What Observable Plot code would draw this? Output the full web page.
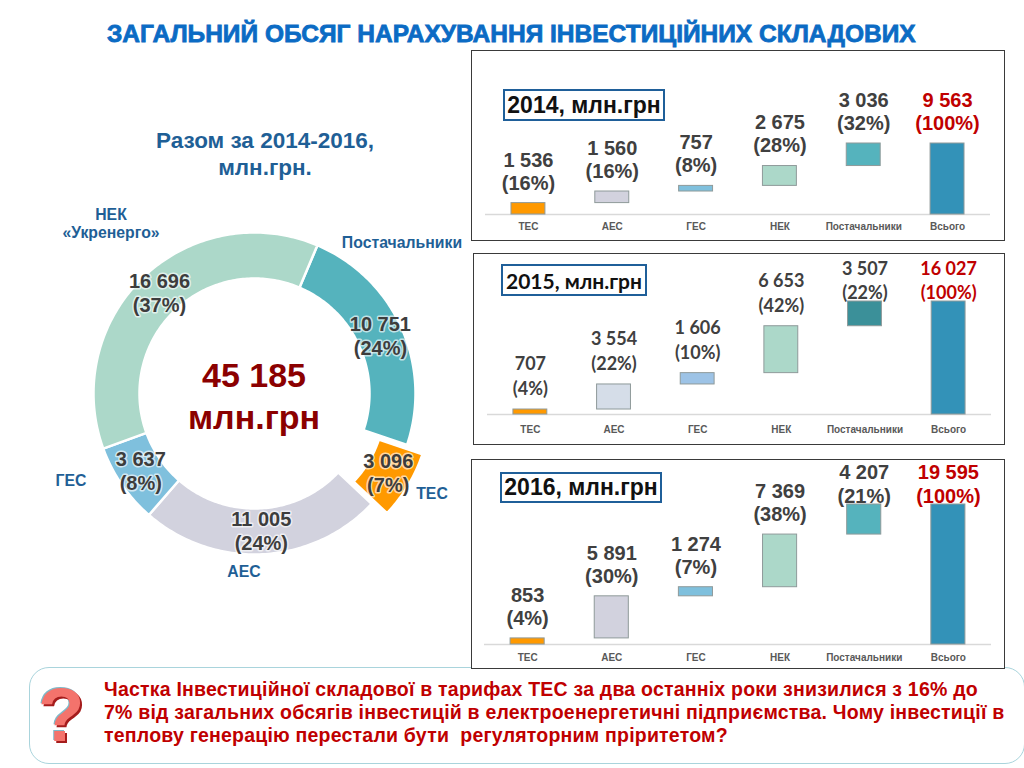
<!DOCTYPE html>
<html><head><meta charset="utf-8">
<script src="https://cdn.jsdelivr.net/npm/d3@7"></script>
<script src="https://cdn.jsdelivr.net/npm/@observablehq/plot@0.6"></script>
<style>
html,body{margin:0;padding:0;background:#fff;}
#page{position:relative;width:1024px;height:768px;overflow:hidden;background:#fff;font-family:"Liberation Sans",Arial,sans-serif;}
.t{position:absolute;white-space:nowrap;font-weight:bold;line-height:1;}
.panel{position:absolute;box-sizing:border-box;border:1.5px solid #3a3a3a;background:#fff;}
.badge{position:absolute;box-sizing:border-box;border:2.5px solid #1f5f99;background:#fff;color:#111;font-weight:bold;display:flex;align-items:center;justify-content:center;white-space:nowrap;}
.blue{color:#1f5f96;}
.note{color:#c00000;font-size:19.5px;letter-spacing:0.21px;left:104px;}
</style></head><body><div id="page"></div>
<script>
// Donut: 2014-2016 totals
const donutNames = ["Постачальники","ТЕС","АЕС","ГЕС","НЕК"];
const donutValues = [10751,3096,11005,3637,16696];
const donutLabels = ["10 751","3 096","11 005","3 637","16 696"];
const donutPercents = ["(24%)","(7%)","(24%)","(8%)","(37%)"];
const donutColors = ["#55b3bd","#ff9900","#d2d2de","#7fc0dd","#acd8c9"];
const donutExplode = [0,18,0,0,0];

// Waterfalls
const categories = ["ТЕС","АЕС","ГЕС","НЕК","Постачальники","Всього"];
const values2014 = [1536,1560,757,2675,3036,9563];
const labels2014 = ["1 536","1 560","757","2 675","3 036","9 563"];
const percents2014 = ["(16%)","(16%)","(8%)","(28%)","(32%)","(100%)"];
const values2015 = [707,3554,1606,6653,3507,16027];
const labels2015 = ["707","3 554","1 606","6 653","3 507","16 027"];
const percents2015 = ["(4%)","(22%)","(10%)","(42%)","(22%)","(100%)"];
const values2016 = [853,5891,1274,7369,4207,19595];
const labels2016 = ["853","5 891","1 274","7 369","4 207","19 595"];
const percents2016 = ["(4%)","(30%)","(7%)","(38%)","(21%)","(100%)"];
const colors = ["#ff9900","#d2d2de","#7fc0dd","#acd8c9","#55b3bd","#3392b8"];
const colors2015 = ["#ff9900","#d5dde8","#9dc3e6","#acd8c9","#3b9099","#3392b8"];

const page = document.getElementById("page");
function html(cls, text, style){
  const d = document.createElement("div");
  d.className = cls; d.textContent = text; Object.assign(d.style, style);
  page.appendChild(d); return d;
}
function place(svg){ page.appendChild(svg); return svg; }

// Headings
html("t","ЗАГАЛЬНИЙ ОБСЯГ НАРАХУВАННЯ ІНВЕСТИЦІЙНИХ СКЛАДОВИХ",{left:"107px",top:"22px",fontSize:"24.5px",color:"#0b6bc4",WebkitTextStroke:"0.8px #0b6bc4"});
html("t blue","Разом за 2014-2016,",{left:"265px",top:"130px",fontSize:"22.5px",transform:"translateX(-50%)"});
html("t blue","млн.грн.",{left:"265px",top:"157px",fontSize:"22.5px",transform:"translateX(-50%)"});

// Donut rows
const total = d3.sum(donutValues);
const startAngle = 23;
const R = 161, r = 115, half = 200;
let acc = startAngle;
const slices = donutNames.map((name,i)=>{
  const a0 = acc, a1 = acc + donutValues[i]/total*360; acc = a1;
  return {name,a0,a1,mid:(a0+a1)/2,explode:donutExplode[i],label:donutLabels[i],pct:donutPercents[i]};
});
const polar = (deg,rad,e,m)=>{
  const t = deg*Math.PI/180, tm = m*Math.PI/180;
  return {x:rad*Math.sin(t)+e*Math.sin(tm), y:-rad*Math.cos(t)-e*Math.cos(tm)};
};
const ring = slices.flatMap(s=>{
  const n = Math.ceil(s.a1-s.a0), pts = [];
  for(let k=0;k<=n;k++) pts.push({name:s.name,...polar(s.a0+(s.a1-s.a0)*k/n,R,s.explode,s.mid)});
  for(let k=n;k>=0;k--) pts.push({name:s.name,...polar(s.a0+(s.a1-s.a0)*k/n,r,s.explode,s.mid)});
  pts.push(pts[0]);
  return pts;
});
const centroid = slices.map(s=>({...s,...polar(s.mid,(R+r)/2,s.explode,s.mid)}));
const haloText = (field,dy)=>Plot.text(centroid,{x:"x",y:"y",text:field,dy,fontFamily:"Liberation Sans",fontSize:20,fontWeight:"bold",fill:"#3d3d3d",stroke:"white",strokeWidth:3,strokeOpacity:0.65});
place(Plot.plot({
  width:half*2,height:half*2,margin:0,
  style:{position:"absolute",left:(254-half)+"px",top:(392.5-half)+"px",background:"transparent",overflow:"visible",maxWidth:"none"},
  x:{domain:[-half,half],axis:null},
  y:{domain:[half,-half],axis:null},
  color:{domain:donutNames,range:donutColors},
  marks:[
    Plot.line(ring,{x:"x",y:"y",z:"name",fill:"name",stroke:"white",strokeWidth:2.5,curve:"linear"}),
    haloText("label",-12),
    haloText("pct",12)
  ]
}));

html("t","45 185",{left:"254px",top:"358px",fontSize:"34px",color:"#8b0000",transform:"translateX(-50%)"});
html("t","млн.грн",{left:"254px",top:"400px",fontSize:"34px",color:"#8b0000",transform:"translateX(-50%)"});
const lab = (text,cx,cy)=>html("t blue",text,{left:cx+"px",top:(cy-8)+"px",fontSize:"15.8px",transform:"translateX(-50%)"});
lab("НЕК",111,215); lab("«Укренерго»",111,233); lab("Постачальники",402,243);
lab("ГЕС",71,481); lab("ТЕС",432,494); lab("АЕС",244,572);

// Waterfall panels
function panel(o){
  const d = document.createElement("div"); d.className="panel";
  Object.assign(d.style,{left:o.left+"px",top:o.top+"px",width:o.width+"px",height:o.height+"px"});
  page.appendChild(d);
  let run = 0;
  const rows = categories.map((cat,i)=>{
    const isTotal = i===categories.length-1;
    const start = isTotal?0:run, end = isTotal?o.values[i]:run+o.values[i];
    run = end;
    return {cat,start,end,label:o.labels[i],pct:o.percents[i],lifted:o.lifted&&i>=4,total:isTotal};
  });
  const plain = rows.filter(d=>!d.lifted&&!d.total), lift = rows.filter(d=>d.lifted&&!d.total), tot = rows.filter(d=>d.total);
  const textMarks = [];
  const addText = (data,field,dy,fill)=>textMarks.push(Plot.text(data,{x:"cat",y:"end",text:field,dy,fill,fontFamily:o.font,fontSize:o.fontSize,fontWeight:"bold"}));
  addText(plain,"label",o.dyValue,"#404040"); addText(plain,"pct",o.dyPct,"#404040");
  addText(lift,"label",-32,"#404040"); addText(lift,"pct",-8,"#404040");
  addText(tot,"label",o.lifted?-32:o.dyValue,"#c00000"); addText(tot,"pct",o.lifted?-8:o.dyPct,"#c00000");
  place(Plot.plot({
    width:o.width,height:o.height,
    marginLeft:o.plotLeft-o.left,marginRight:o.left+o.width-o.plotRight,
    marginTop:o.barTop-o.top,marginBottom:o.top+o.height-o.base,
    style:{position:"absolute",left:o.left+"px",top:o.top+"px",background:"transparent",overflow:"visible",maxWidth:"none"},
    x:{domain:categories,paddingInner:0.595,paddingOuter:0.31,round:false,label:null},
    y:{domain:[0,o.values[5]],axis:null},
    color:{domain:categories,range:o.colors},
    marks:[
      Plot.axisX({tickSize:0,tickPadding:o.tickPad,label:null,fontFamily:"Liberation Sans",fontSize:10,fontWeight:"bold",color:"#595959",fill:"#595959"}),
      Plot.ruleY([0],{stroke:"#d9d9d9",strokeWidth:1.5}),
      Plot.rectY(rows,{x:"cat",y1:"start",y2:"end",fill:"cat",stroke:"#8f9a9a",strokeWidth:1,inset:0}),
      ...textMarks
    ]
  }));
  const b = document.createElement("div"); b.className="badge"; b.textContent=o.badge;
  Object.assign(b.style,{left:o.bx+"px",top:o.by+"px",width:o.bw+"px",height:o.bh+"px",fontFamily:o.font,fontSize:o.bf+"px"});
  page.appendChild(b);
}

// Note box sits under the third panel
const box = document.createElement("div");
Object.assign(box.style,{position:"absolute",left:"29px",top:"667px",width:"996px",height:"97px",boxSizing:"border-box",border:"1.5px solid #a9d4dc",borderRadius:"20px",background:"#fff"});
page.appendChild(box);

panel({left:471,top:50,width:534,height:191,plotLeft:485,plotRight:990,barTop:143,base:214,values:values2014,labels:labels2014,percents:percents2014,colors,font:"Liberation Sans",fontSize:20,dyValue:-43,dyPct:-20,tickPad:8.5,lifted:false,badge:"2014, млн.грн",bx:503,by:89,bw:162,bh:32,bf:23});
panel({left:473,top:253,width:532,height:192,plotLeft:487,plotRight:991,barTop:301,base:414,values:values2015,labels:labels2015,percents:percents2015,colors:colors2015,font:"Lato",fontSize:18,dyValue:-45,dyPct:-20,tickPad:11,lifted:true,badge:"2015, млн.грн",bx:501,by:264,bw:146,bh:32,bf:21});
panel({left:471,top:459,width:534,height:210,plotLeft:484,plotRight:991,barTop:504,base:644,values:values2016,labels:labels2016,percents:percents2016,colors,font:"Liberation Sans",fontSize:20,dyValue:-43,dyPct:-20,tickPad:9,lifted:true,badge:"2016, млн.грн",bx:500,by:472,bw:162,bh:31,bf:23});

// Note
html("t","?",{left:"38px",top:"677px",fontSize:"76px",color:"#f4736c",fontFamily:"Liberation Sans",textShadow:"2px 2px 0 #a51c1c, -1px -1px 0 #7fb9c9"});
html("t note","Частка Інвестиційної складової в тарифах ТЕС за два останніх роки знизилися з 16% до",{top:"680px"});
html("t note","7% від загальних обсягів інвестицій в електроенергетичні підприємства. Чому інвестиції в",{top:"703px"});
html("t note","теплову генерацію перестали бути  регуляторним пріритетом?",{top:"726px",whiteSpace:"pre"});
</script></body></html>
